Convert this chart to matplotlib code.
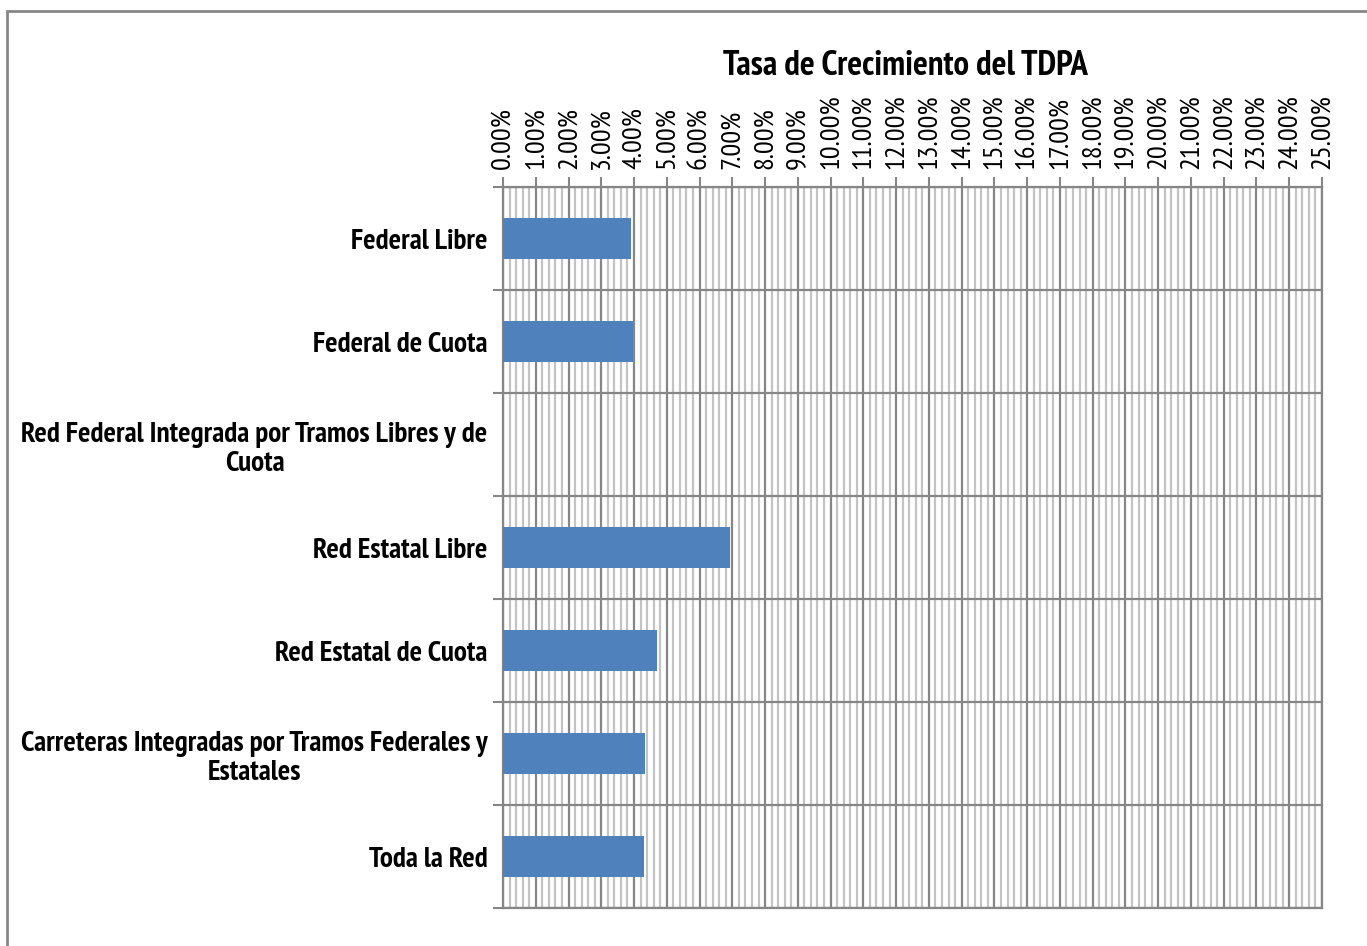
import numpy as np
import matplotlib.pyplot as plt
from matplotlib.patches import Rectangle
from matplotlib.ticker import MultipleLocator, FuncFormatter

categorias = ['Federal Libre', 'Federal de Cuota',
              'Red Federal Integrada por Tramos Libres y de\nCuota',
              'Red Estatal Libre', 'Red Estatal de Cuota',
              'Carreteras Integradas por Tramos Federales y\nEstatales',
              'Toda la Red']
tasas = [3.91, 3.97, 0.0, 6.93, 4.70, 4.33, 4.30]

plt.rcParams['font.family'] = ['PT Sans Narrow', 'DejaVu Sans']

fig = plt.figure(figsize=(13.67, 9.46), dpi=100)
ax = fig.add_axes([503/1367, 1-908/946, (1322-503)/1367, (908-187)/946])

# marco exterior
fig.add_artist(Rectangle((7/1367, -0.1), 1.2, 1.1 - 11/946, transform=fig.transFigure,
                         fill=False, edgecolor='#868686', linewidth=2))

y = np.arange(len(categorias))
ax.barh(y, tasas, height=0.39, color='#4f81bd', zorder=3)

ax.set_xlim(0, 25)
ax.set_ylim(len(categorias) - 0.5, -0.5)

ax.xaxis.tick_top()
ax.xaxis.set_major_locator(MultipleLocator(1))
ax.xaxis.set_minor_locator(MultipleLocator(0.2))
ax.xaxis.set_major_formatter(FuncFormatter(lambda v, p: '%.2f%%' % v))
ax.tick_params(axis='x', which='major', labelsize=20.5, rotation=90, length=7,
               width=1.5, color='#868686', pad=6)
ax.tick_params(axis='x', which='minor', length=0)
for lab in ax.get_xticklabels():
    lab.set_verticalalignment('bottom')

ax.set_yticks(y)
ax.set_yticklabels(categorias, fontsize=21, fontweight='bold', linespacing=1.15)
ax.set_yticks(np.arange(len(categorias) + 1) - 0.5, minor=True)
ax.tick_params(axis='y', which='major', length=0, pad=11)
ax.tick_params(axis='y', which='minor', length=7, width=1.5, color='#868686')
for lab in ax.get_yticklabels():
    lab.set_horizontalalignment('right')
    lab.set_multialignment('center')

ax.grid(axis='x', which='minor', color='#c3c3c3', linewidth=1.6, zorder=0)
ax.grid(axis='x', which='major', color='#868686', linewidth=1.6, zorder=1)
ax.grid(axis='y', which='minor', color='#868686', linewidth=1.6, zorder=1)
ax.set_axisbelow(True)

for s in ax.spines.values():
    s.set_color('#868686')
    s.set_linewidth(1.6)

fig.text(905/1367, 1-66/946, 'Tasa de Crecimiento del TDPA', ha='center', va='center',
         fontsize=25, fontweight='bold')

plt.savefig('out.png', dpi=100)
plt.close()
